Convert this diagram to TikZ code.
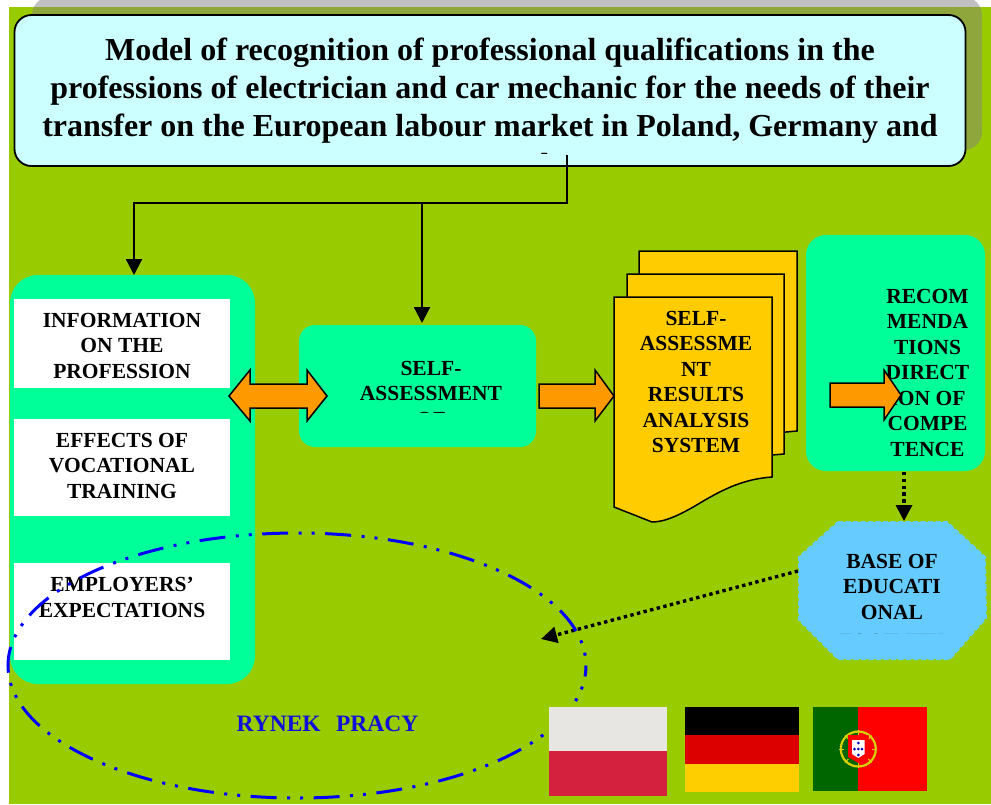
\documentclass[tikz,border=0pt]{standalone}
\usepackage{fontspec}
\setmainfont{Liberation Serif}
\usetikzlibrary{arrows.meta}
\definecolor{bggreen}{HTML}{99CC00}
\definecolor{mint}{HTML}{00FF99}
\definecolor{titlecyan}{HTML}{CCFFFF}
\definecolor{shadowlight}{HTML}{C0C0C0}
\definecolor{shadowdark}{HTML}{8EA63C}
\definecolor{amber}{HTML}{FFCC00}
\definecolor{arroworange}{HTML}{FF9900}
\definecolor{baseblue}{HTML}{66CCFF}
\definecolor{plwhite}{HTML}{E8E6E3}
\definecolor{plred}{HTML}{D4213D}
\definecolor{degold}{HTML}{FFCE00}
\definecolor{dered}{HTML}{DD0000}
\definecolor{ptgreen}{HTML}{006600}
\definecolor{ptyellow}{HTML}{D8D000}
\definecolor{marketblue}{HTML}{0000FF}
\definecolor{markettext}{HTML}{1010D8}
\tikzset{
  box/.style={inner sep=0pt,outer sep=0pt,minimum width=#1},
  lab/.style={anchor=north,inner sep=0pt,align=center,font=\bfseries\fontsize{21.5}{25.5}\selectfont},
  titlelab/.style={anchor=north,inner sep=0pt,align=center,font=\bfseries\fontsize{32}{37.7}\selectfont},
  feed/.style={draw=black,line width=2.3pt},
  tipped/.style={-{Triangle[length=16pt,width=16pt]}},
  dotfeed/.style={draw=black,line width=3.4pt,dash pattern=on 3.4pt off 3.4pt,-{Triangle[length=16pt,width=16pt]}},
  blockarrow/.style={draw=black,line width=1.5pt,fill=arroworange,miter limit=10},
  sheet/.style={draw=black,line width=1.5pt,fill=amber},
  whitebox/.style={fill=white,draw=none},
}
\begin{document}
\begin{tikzpicture}[x=1pt,y=-1pt]
\useasboundingbox (0,0) rectangle (991,804);
\fill[white] (0,0) rectangle (991,804);
\fill[bggreen] (9,7) rectangle (991,804);
% shadow of the title
\begin{scope}
\clip (0,0) rectangle (991,7);
\fill[shadowlight,rounded corners=18pt] (32,-3) rectangle (982,150);
\end{scope}
\begin{scope}
\clip (0,7) rectangle (991,804);
\fill[shadowdark,rounded corners=18pt] (32,-3) rectangle (982,150);
\end{scope}
% title
\node[box=951pt,minimum height=151pt,fill=titlecyan,draw=black,line width=1.8pt,rounded corners=17pt] (title) at (490,90.5) {};
\begin{scope}
\clip (0,0) rectangle (991,153.5);
\node[titlelab] (titletext) at (490,38) {Model of recognition of professional qualifications in the\\professions of electrician and car mechanic for the needs of their\\transfer on the European labour market in Poland, Germany and\\[1.5pt]Portugal};
\end{scope}
% left panel
\fill[mint,rounded corners=28pt] (10,275) rectangle (255,684);
\node[box=216pt,minimum height=89pt,whitebox] (info) at (122,343.5) {};
\node[box=216pt,minimum height=97pt,whitebox] (effects) at (122,467.5) {};
\node[box=216pt,minimum height=97pt,whitebox] (expect) at (122,611.5) {};
\node[lab] at (122,313) {INFORMATION\\ON THE\\PROFESSION};
\node[lab] at (122,433) {EFFECTS OF\\VOCATIONAL\\TRAINING};
\node[lab] at (122,577) {EMPLOYERS’\\EXPECTATIONS};
% self assessment
\node[box=237pt,minimum height=122pt,fill=mint,rounded corners=16pt] (self) at (417.5,386) {};
\begin{scope}
\clip (280,330) rectangle (560,412);
\node[lab] (selftext) at (431,361) {SELF-\\ASSESSMENT\\OF};
\end{scope}
% document stack
\draw[sheet] (639,251) -- (797,251) -- (797,431) -- (775,433) -- (639,433) -- cycle;
\draw[sheet] (627,274) -- (784,274) -- (784,454) -- (760,456) -- (627,456) -- cycle;
\draw[sheet] (614,297) -- (772,297) -- (772,477) .. controls (745,479) and (725,488) .. (700,503) .. controls (680,515) and (665,522) .. (652,522) -- (614,507) -- cycle;
\node[lab] (doc) at (696,311) {SELF-\\ASSESSME\\NT\\RESULTS\\ANALYSIS\\SYSTEM};
% recommendations
\node[box=179pt,minimum height=236pt,fill=mint,rounded corners=20pt] (recom) at (895.5,353) {};
\node[lab] (recomtext) at (927.5,289) {RECOM\\MENDA\\TIONS\\DIRECT\\ION OF\\COMPE\\TENCE};
% base
\path[fill=baseblue,draw=baseblue,line width=2pt,dash pattern=on 5pt off 2.5pt] (838,522) -- (947,522) -- (985,557) -- (986,618) -- (950,659) -- (838,659) -- (799,620) -- (799,557) -- cycle;
\coordinate (baseN) at (904,521);
\coordinate (baseW) at (798,571);
\begin{scope}
\clip (790,515) rectangle (991,633);
\node[lab] (basetext) at (892,554) {BASE OF\\EDUCATI\\ONAL\\[4pt]FACILITY};
\end{scope}
% block arrows
\draw[blockarrow] (229,396) -- (250,370) -- (250,384) -- (307,384) -- (307,370) -- (327,396) -- (307,421) -- (307,408) -- (250,408) -- (250,421) -- cycle;
\draw[blockarrow] (539,384) -- (595,384) -- (595,370) -- (614,396) -- (595,421) -- (595,408) -- (539,408) -- cycle;
\draw[blockarrow] (830,383) -- (884,383) -- (884,370) -- (901,395) -- (884,420) -- (884,407) -- (830,407) -- cycle;
% connectors
\coordinate (titleout) at (567,155);
\coordinate (branch) at (567,203);
\coordinate (jn) at (422,203);
\coordinate (panelN) at (134,275);
\coordinate (selfN) at (422,323);
\coordinate (marketpt) at (541,639);
\draw[feed,tipped] (titleout) -- (branch) -- (134,203) -- (panelN);
\draw[feed,tipped] (jn) -- (selfN);
\draw[dotfeed] (904,472) -- (baseN);
\draw[dotfeed] (baseW) -- (marketpt);
% market ellipse
\draw[marketblue,line width=3pt,dash pattern=on 26pt off 10.5pt on 3pt off 10pt on 3pt off 10.5pt,dash phase=15pt] (297,665.5) ellipse [x radius=289,y radius=132.5];
\node[inner sep=0pt,font=\bfseries\fontsize{23.5}{28}\selectfont,text=markettext] (market) at (327.5,724) {RYNEK\hspace{0.4em} PRACY};
% flags
\fill[plwhite] (549,707) rectangle (667,751.3);
\fill[plred] (549,751.3) rectangle (667,796);
\fill[black] (685,707) rectangle (799,735.3);
\fill[dered] (685,735.3) rectangle (799,763.6);
\fill[degold] (685,763.6) rectangle (799,792);
\fill[ptgreen] (813,707) rectangle (858.3,791);
\fill[red] (858.3,707) rectangle (927,791);
\draw[ptyellow,line width=2.2pt] (858.3,749) circle (17.5);
\foreach \s in {0,45,...,315}
  \draw[ptyellow,line width=1pt] (858.3,749) ++(\s:14) -- ++(\s:5);
\fill[red] (848,735) -- (868.5,735) -- (868.5,757) -- (858.3,763) -- (848,757) -- cycle;
\fill[white] (852,740) -- (864.5,740) -- (864.5,754) -- (858.3,758) -- (852,754) -- cycle;
\foreach \a/\b in {858.3/743,858.3/749,858.3/755,854.5/749,862/749}
  \fill[blue!70!black] (\a,\b) circle (1.5);
\end{tikzpicture}
\end{document}
